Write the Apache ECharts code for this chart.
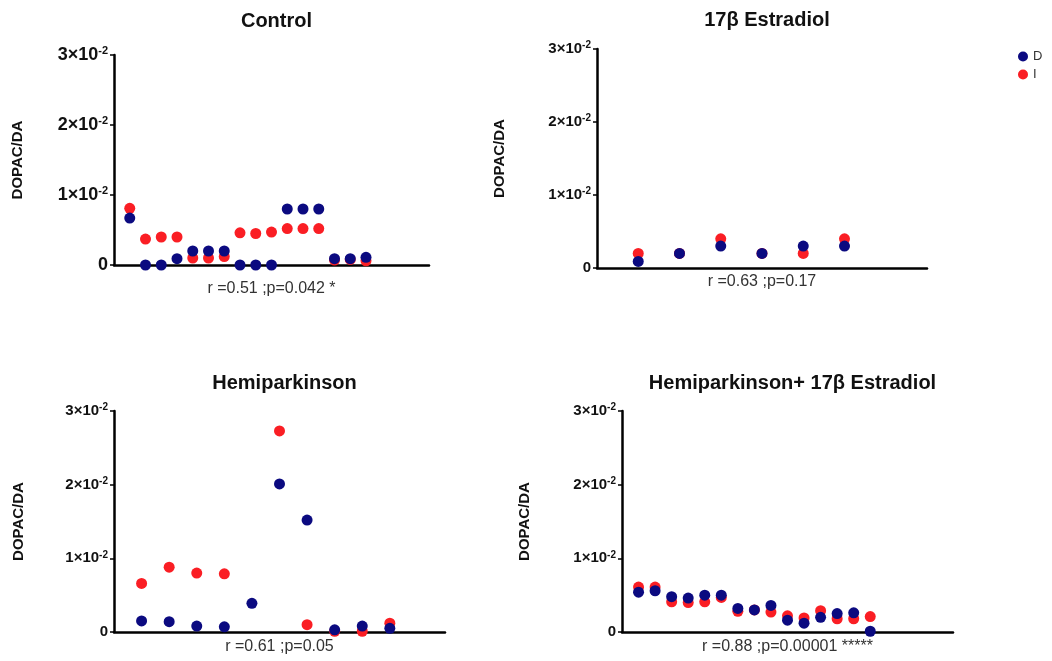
<!DOCTYPE html>
<html>
<head>
<meta charset="utf-8">
<script src="https://cdn.jsdelivr.net/npm/echarts@6/dist/echarts.min.js"></script>
<style>
html,body{margin:0;padding:0;background:#fff;}
#c{width:1052px;height:661px;}
</style>
</head>
<body>
<div id="c"></div>
<script>
// ---- data ----
var panelTitles = ['Control', '17\u03b2 Estradiol', 'Hemiparkinson', 'Hemiparkinson+ 17\u03b2 Estradiol'];
var statLabels = ['r =0.51 ;p=0.042 *', 'r =0.63 ;p=0.17', 'r =0.61 ;p=0.05', 'r =0.88 ;p=0.00001 *****'];
var yName = 'DOPAC/DA';
var seriesNames = ['D', 'I'];
var xMax = [20, 8, 12, 20];

var controlD = [0.0067, 0, 0, 0.0009, 0.002, 0.002, 0.002, 0, 0, 0, 0.008, 0.008, 0.008, 0.0009, 0.0009, 0.0011];
var controlI = [0.0081, 0.0037, 0.004, 0.004, 0.001, 0.001, 0.0012, 0.0046, 0.0045, 0.0047, 0.0052, 0.0052, 0.0052, 0.0007, 0.0008, 0.0006];

var estradiolD = [0.0009, 0.002, 0.003, 0.002, 0.003, 0.003];
var estradiolI = [0.002, 0.002, 0.004, 0.002, 0.002, 0.004];

var hemiD = [0.0015, 0.0014, 0.0008, 0.0007, 0.0039, 0.0201, 0.0152, 0.0003, 0.0008, 0.0005];
var hemiI = [0.0066, 0.0088, 0.008, 0.0079, null, 0.0273, 0.001, 0.0001, 0.0001, 0.0012];

var hemiEstD = [0.0054, 0.0056, 0.0048, 0.0046, 0.005, 0.005, 0.0032, 0.003, 0.0036, 0.0016, 0.0012, 0.002, 0.0025, 0.0026, 0.0001];
var hemiEstI = [0.0061, 0.0061, 0.0041, 0.004, 0.0041, 0.0047, 0.0028, 0.003, 0.0027, 0.0022, 0.0019, 0.0029, 0.0018, 0.0018, 0.0021];

var dataD = [controlD, estradiolD, hemiD, hemiEstD];
var dataI = [controlI, estradiolI, hemiI, hemiEstI];

// ---- layout / style ----
var FONT = 'Liberation Sans, Arial, Helvetica, sans-serif';
var colD = '#0b0a80';
var colI = '#fa1e24';
var grids = [
  {left: 114, top: 55, width: 315, height: 210},
  {left: 597, top: 49, width: 330, height: 219},
  {left: 114, top: 411, width: 331, height: 221},
  {left: 622, top: 411, width: 331, height: 221}
];
var labelSize = [18, 15, 15, 15];
var supSize = [11, 10, 10, 10];
var nameGapsY = [89, 90, 88, 90];
var nameGapsX = [16, 6, 7, 7];
var titleTops = [6, 5, 368, 368];

function pairs(arr) {
  return arr.map(function (v, i) { return [i + 1, v]; });
}

var option = {
  backgroundColor: '#fff',
  animation: false,
  title: panelTitles.map(function (t, i) {
    return {
      text: t,
      left: grids[i].left + grids[i].width / 2,
      textAlign: 'center',
      top: titleTops[i],
      textStyle: {fontFamily: FONT, fontSize: 20, fontWeight: 'bold', color: '#111'}
    };
  }),
  legend: {
    data: seriesNames,
    orient: 'vertical',
    left: 1013,
    top: 45,
    icon: 'circle',
    itemWidth: 10,
    itemHeight: 10,
    itemGap: 5,
    textStyle: {fontFamily: FONT, fontSize: 13, color: '#333'}
  },
  grid: grids,
  xAxis: grids.map(function (g, i) {
    return {
      type: 'value',
      gridIndex: i,
      min: 0,
      max: xMax[i],
      name: statLabels[i],
      nameLocation: 'middle',
      nameGap: nameGapsX[i],
      nameTextStyle: {fontFamily: FONT, fontSize: 16, color: '#333', verticalAlign: 'top'},
      axisLine: {show: true, onZero: false, lineStyle: {color: '#000', width: 2.5}},
      axisTick: {show: false},
      axisLabel: {show: false},
      splitLine: {show: false}
    };
  }),
  yAxis: grids.map(function (g, i) {
    return {
      type: 'value',
      gridIndex: i,
      min: 0,
      max: 0.03,
      interval: 0.01,
      name: yName,
      nameLocation: 'middle',
      nameGap: nameGapsY[i],
      nameRotate: 90,
      nameTextStyle: {fontFamily: FONT, fontSize: 15, fontWeight: 'bold', color: '#111'},
      axisLine: {show: true, lineStyle: {color: '#000', width: 2.5}},
      axisTick: {show: true, length: 4, lineStyle: {color: '#000', width: 1.5}},
      splitLine: {show: false},
      axisLabel: {
        margin: 6,
        formatter: function (v) {
          if (v === 0) return '{n|0}';
          return '{n|' + Math.round(v * 100) + '\u00d710}{s|-2}';
        },
        rich: {
          n: {fontFamily: FONT, fontSize: labelSize[i], fontWeight: 'bold', color: '#111', lineHeight: labelSize[i] + 2},
          s: {fontFamily: FONT, fontSize: supSize[i], fontWeight: 'bold', color: '#111', verticalAlign: 'top', lineHeight: supSize[i]}
        }
      }
    };
  }),
  series: []
};

for (var p = 0; p < 4; p++) {
  option.series.push({
    name: 'I', type: 'scatter', xAxisIndex: p, yAxisIndex: p,
    symbol: 'circle', symbolSize: 11, z: 2,
    itemStyle: {color: colI, opacity: 1},
    data: pairs(dataI[p])
  });
  option.series.push({
    name: 'D', type: 'scatter', xAxisIndex: p, yAxisIndex: p,
    symbol: 'circle', symbolSize: 11, z: 3,
    itemStyle: {color: colD, opacity: 1},
    data: pairs(dataD[p])
  });
}

var chart = echarts.init(document.getElementById('c'), null, {renderer: 'canvas'});
chart.setOption(option);
</script>
</body>
</html>
